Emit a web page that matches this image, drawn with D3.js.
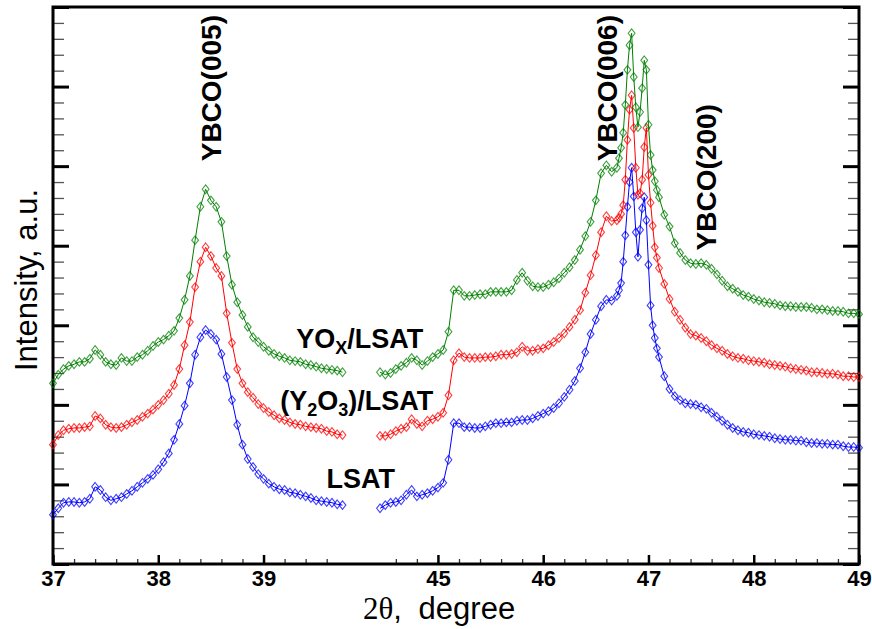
<!DOCTYPE html>
<html>
<head>
<meta charset="utf-8">
<script src="https://cdn.jsdelivr.net/npm/d3@7/dist/d3.min.js"></script>
<style>
  html, body { margin: 0; padding: 0; background: #fff; }
  svg { display: block; }
</style>
</head>
<body>
<div id="chart"></div>
<script>
// 2theta values of the two scanned windows (the axis is broken between them)
const twoThetaLow = [37.00, 37.05, 37.10, 37.15, 37.20, 37.25, 37.30, 37.35, 37.40, 37.45,
  37.50, 37.55, 37.60, 37.65, 37.70, 37.75, 37.80, 37.85, 37.90, 37.95,
  38.00, 38.05, 38.10, 38.15, 38.20, 38.25, 38.30, 38.35, 38.40, 38.45,
  38.50, 38.55, 38.60, 38.65, 38.70, 38.75, 38.80, 38.85, 38.90, 38.95,
  39.00, 39.05, 39.10, 39.15, 39.20, 39.25, 39.30, 39.35, 39.40, 39.45,
  39.50, 39.55, 39.60, 39.65, 39.70, 39.75];
const twoThetaHigh = [44.45, 44.50, 44.55, 44.60, 44.65, 44.70, 44.75, 44.80, 44.85, 44.90,
  44.95, 45.00, 45.05, 45.10, 45.15, 45.20, 45.25, 45.30, 45.35, 45.40,
  45.45, 45.50, 45.55, 45.60, 45.65, 45.70, 45.75, 45.80, 45.85, 45.90,
  45.95, 46.00, 46.05, 46.10, 46.15, 46.20, 46.25, 46.30, 46.35, 46.40,
  46.45, 46.50, 46.55, 46.60, 46.65, 46.70,
  46.72, 46.74, 46.76, 46.78, 46.80, 46.82, 46.84, 46.86, 46.88, 46.90,
  46.92, 46.94, 46.96, 46.98, 47.00, 47.02, 47.04, 47.06, 47.08, 47.10,
  47.15, 47.20, 47.25, 47.30, 47.35, 47.40, 47.45, 47.50, 47.55, 47.60,
  47.65, 47.70, 47.75, 47.80, 47.85, 47.90, 47.95, 48.00, 48.05, 48.10,
  48.15, 48.20, 48.25, 48.30, 48.35, 48.40, 48.45, 48.50, 48.55, 48.60,
  48.65, 48.70, 48.75, 48.80, 48.85, 48.90, 48.95, 49.00];

// intensities (a.u., curves already offset as in the figure)
const lsatLow = [62, 70, 77, 78, 78, 77, 78, 82, 97, 93, 84, 80, 82, 84, 88, 92, 97, 102, 107, 112,
  119, 128, 139, 156, 176, 199, 227, 263, 285, 294, 289, 282, 264, 235, 206, 175, 150, 132, 122, 113,
  107, 101, 97, 94, 93, 90, 89, 87, 85, 83, 80, 79, 78, 77, 75, 74];
const lsatHigh = [70, 74, 77, 78, 80, 87, 93, 85, 87, 89, 92, 96, 102, 131, 177, 177, 172, 172, 171, 171,
  173, 175, 177, 177, 178, 178, 180, 181, 181, 183, 186, 189, 192, 196, 202, 210, 219, 230, 246, 266,
  289, 307, 324, 332, 331, 337,
  344, 353, 380, 413, 449, 480, 498, 462, 417, 386, 420, 447, 461, 432, 376, 325, 300, 284, 271, 260,
  236, 220, 211, 206, 202, 201, 200, 197, 195, 190, 185, 180, 175, 171, 168, 166, 165, 163, 162, 161,
  160, 158, 157, 156, 156, 155, 155, 153, 152, 152, 151, 151, 150, 150, 148, 147, 147, 146];

const y2o3Low = [150, 162, 168, 170, 171, 171, 172, 173, 186, 183, 175, 172, 171, 172, 175, 178, 181, 185, 189, 194,
  200, 206, 214, 225, 245, 275, 304, 348, 380, 398, 387, 372, 362, 315, 278, 245, 227, 216, 209, 201,
  196, 191, 187, 183, 181, 178, 176, 175, 173, 172, 171, 170, 167, 166, 163, 162];
const y2o3High = [161, 161, 163, 167, 170, 172, 182, 176, 173, 180, 182, 185, 190, 212, 256, 265, 260, 259, 259, 259,
  260, 260, 261, 263, 263, 264, 266, 273, 268, 268, 270, 271, 275, 279, 284, 290, 298, 307, 319, 341,
  363, 388, 417, 437, 431, 432,
  435, 440, 451, 483, 533, 571, 589, 548, 498, 464, 466, 483, 524, 548, 489, 454, 425, 398, 385, 372,
  352, 333, 317, 307, 297, 289, 287, 284, 280, 275, 271, 268, 264, 261, 259, 258, 256, 255, 254, 253,
  251, 250, 249, 248, 246, 245, 244, 243, 241, 241, 240, 239, 239, 238, 236, 236, 235, 235];

const yoxLow = [227, 238, 245, 249, 251, 254, 254, 258, 269, 263, 254, 251, 250, 259, 255, 255, 260, 263, 268, 274,
  279, 282, 287, 293, 309, 332, 362, 407, 449, 471, 457, 449, 430, 387, 351, 329, 313, 298, 285, 279,
  273, 268, 264, 261, 259, 256, 255, 254, 251, 250, 248, 246, 245, 244, 243, 241];
const yoxHigh = [241, 238, 240, 245, 249, 253, 259, 256, 250, 255, 260, 264, 269, 292, 344, 344, 337, 337, 338, 339,
  339, 342, 342, 342, 342, 344, 357, 366, 356, 349, 348, 348, 351, 354, 359, 366, 373, 382, 395, 412,
  430, 457, 491, 501, 493, 498,
  510, 523, 542, 577, 621, 652, 667, 612, 574, 549, 568, 598, 633, 621, 552, 514, 495, 481, 470, 461,
  439, 424, 403, 391, 382, 378, 377, 378, 376, 371, 364, 356, 349, 346, 342, 338, 336, 333, 331, 329,
  328, 327, 325, 324, 324, 323, 323, 323, 322, 320, 320, 319, 318, 318, 317, 315, 315, 314];

const seriesNames = ["LSAT", "(Y2O3)/LSAT", "YOx/LSAT"];
const xTickValues = [37, 38, 39, 45, 46, 47, 48, 49];

const width = 872, height = 629;
const margin = { top: 7, right: 13, bottom: 65, left: 53 };
const plotW = width - margin.left - margin.right;
const plotH = height - margin.top - margin.bottom;
const font = "'Liberation Sans', Arial, sans-serif";

// broken x axis: 37..39.75 | gap | 44.42..49
const breakLow = 39.75, breakHigh = 44.42, gapPx = 34.4;
const pxPerDeg = (plotW - gapPx) / ((breakLow - 37) + (49 - breakHigh));
const x = d3.scaleLinear()
  .domain([37, breakLow, breakHigh, 49])
  .range([margin.left, margin.left + (breakLow - 37) * pxPerDeg,
          margin.left + (breakLow - 37) * pxPerDeg + gapPx, width - margin.right]);

const y = d3.scaleLinear().domain([0, 700]).range([margin.top + plotH, margin.top]);

const svg = d3.select("#chart").append("svg")
  .attr("width", width)
  .attr("height", height)
  .style("font-family", font);

// minor x ticks every 0.2 inside each window
const minorX = d3.range(37, breakLow, 0.2).concat(d3.range(44.6, 49, 0.2))
  .filter(v => Math.abs(v - Math.round(v)) > 0.01);
const majorY = d3.range(0, 701, 100);
const minorY = d3.range(0, 701, 20).filter(v => v % 100 !== 0);

function styleAxis(g, w, col) {
  g.select(".domain").remove();
  g.selectAll(".tick line").attr("stroke", col || "#000").attr("stroke-width", w);
}

// bottom axis
svg.append("g")
  .attr("transform", `translate(0,${margin.top + plotH})`)
  .call(d3.axisBottom(x).tickValues(minorX).tickSize(-5).tickFormat(""))
  .call(g => styleAxis(g, 1.3, "#333"));
svg.append("g")
  .attr("transform", `translate(0,${margin.top + plotH})`)
  .call(d3.axisBottom(x).tickValues(xTickValues).tickSize(-9).tickPadding(6).tickFormat(d3.format("d")))
  .call(g => {
    styleAxis(g, 2.5);
    g.selectAll(".tick text")
      .attr("fill", "#000")
      .style("font-family", font)
      .style("font-size", "22px")
      .style("font-weight", "bold");
  });

// left and right axes (no labels)
[[d3.axisLeft, margin.left], [d3.axisRight, width - margin.right]].forEach(([ax, pos]) => {
  svg.append("g")
    .attr("transform", `translate(${pos},0)`)
    .call(ax(y).tickValues(minorY).tickSize(-11).tickFormat(""))
    .call(g => styleAxis(g, 1.3, "#555"));
  svg.append("g")
    .attr("transform", `translate(${pos},0)`)
    .call(ax(y).tickValues(majorY).tickSize(-16).tickFormat(""))
    .call(g => styleAxis(g, 3));
});

// frame
svg.append("rect")
  .attr("x", margin.left)
  .attr("y", margin.top)
  .attr("width", plotW)
  .attr("height", plotH)
  .attr("fill", "none")
  .attr("stroke", "#000")
  .attr("stroke-width", 3);

// curves
const series = [
  { name: seriesNames[0], color: "#0000ff", low: lsatLow, high: lsatHigh },
  { name: seriesNames[1], color: "#ff0000", low: y2o3Low, high: y2o3High },
  { name: seriesNames[2], color: "#008000", low: yoxLow, high: yoxHigh }
];

// open diamond, a bit taller than wide
const diamondShape = {
  draw(ctx, size) {
    const w = Math.sqrt(size) * 0.55, h = Math.sqrt(size) * 0.7;
    ctx.moveTo(0, -h);
    ctx.lineTo(w, 0);
    ctx.lineTo(0, h);
    ctx.lineTo(-w, 0);
    ctx.closePath();
  }
};
const line = d3.line().x(d => x(d[0])).y(d => y(d[1]));
const marker = d3.symbol().type(diamondShape).size(38);

series.forEach(s => {
  const segs = [
    twoThetaLow.map((t, i) => [t, s.low[i]]),
    twoThetaHigh.map((t, i) => [t, s.high[i]])
  ];
  const g = svg.append("g").attr("class", "series");
  segs.forEach(pts => {
    g.append("path")
      .attr("d", line(pts))
      .attr("fill", "none")
      .attr("stroke", s.color)
      .attr("stroke-width", 1);
    g.selectAll(null)
      .data(pts)
      .enter()
      .append("path")
      .attr("d", marker)
      .attr("transform", d => `translate(${x(d[0])},${y(d[1])})`)
      .attr("fill", "none")
      .attr("stroke", s.color)
      .attr("stroke-opacity", 0.75)
      .attr("stroke-width", 1.1);
  });
});

// peak labels (vertical)
const peaks = [
  { text: "YBCO(005)", x: 38.6, y: 598 },
  { text: "YBCO(006)", x: 46.70, y: 598 },
  { text: "YBCO(200)", x: 47.64, y: 486 }
];
peaks.forEach(p => {
  svg.append("text")
    .attr("transform", `translate(${x(p.x)},${y(p.y)}) rotate(-90)`)
    .attr("text-anchor", "middle")
    .style("font-family", font)
    .style("font-size", "28px")
    .style("font-weight", "bold")
    .text(p.text);
});

// sample labels, centred in the axis gap
const gapMid = (x(breakLow) + x(breakHigh)) / 2;
function sampleLabel(parts, cx, cy) {
  const t = svg.append("text")
    .attr("x", cx)
    .attr("y", cy)
    .attr("text-anchor", "middle")
    .style("font-family", font)
    .style("font-size", "27px")
    .style("font-weight", "bold");
  parts.forEach(([str, sub]) => {
    t.append("tspan")
      .attr("dy", sub === 1 ? 6 : sub === -1 ? -6 : 0)
      .style("font-size", sub === 1 ? "18px" : null)
      .text(str);
  });
}
sampleLabel([["YO", 0], ["X", 1], ["/LSAT", -1]], gapMid, y(271));
sampleLabel([["(Y", 0], ["2", 1], ["O", -1], ["3", 1], [")/LSAT", -1]], gapMid - 3, y(194));
sampleLabel([["LSAT", 0]], gapMid + 1, y(96));

// axis titles
const xt = svg.append("text")
  .attr("x", 363)
  .attr("y", 619)
  .style("font-size", "31px");
xt.append("tspan").style("font-family", "'Liberation Serif', 'Times New Roman', serif").text("2θ");
xt.append("tspan").style("font-family", font).text(", ");
xt.append("tspan").attr("dx", 8).style("font-family", font).text("degree");

svg.append("text")
  .attr("transform", "translate(37,280) rotate(-90)")
  .attr("text-anchor", "middle")
  .style("font-family", font)
  .style("font-size", "31px")
  .text("Intensity, a.u.");
</script>
</body>
</html>
